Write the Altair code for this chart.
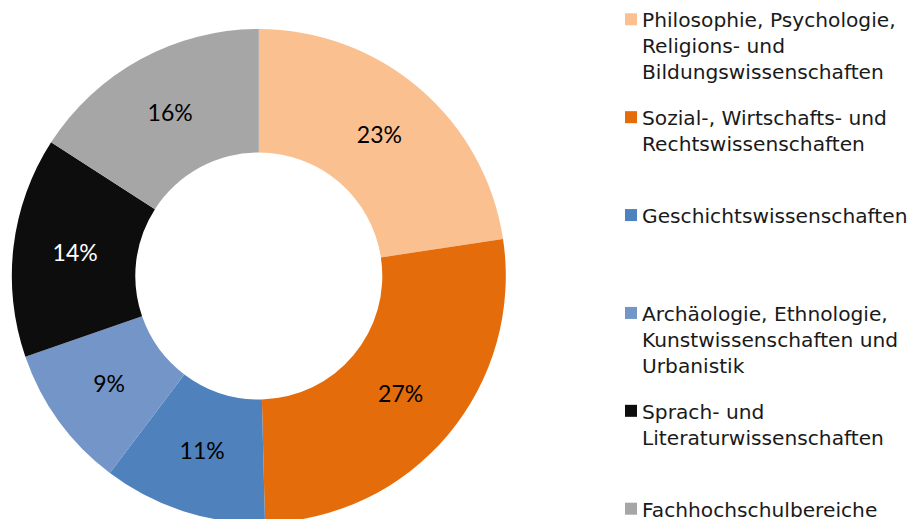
import altair as alt
import pandas as pd

categories = [
    "Philosophie, Psychologie, Religions- und Bildungswissenschaften",
    "Sozial-, Wirtschafts- und Rechtswissenschaften",
    "Geschichtswissenschaften",
    "Archäologie, Ethnologie, Kunstwissenschaften und Urbanistik",
    "Sprach- und Literaturwissenschaften",
    "Fachhochschulbereiche",
]
legend_lines = [
    ["Philosophie, Psychologie,", "Religions- und", "Bildungswissenschaften"],
    ["Sozial-, Wirtschafts- und", "Rechtswissenschaften"],
    ["Geschichtswissenschaften"],
    ["Archäologie, Ethnologie,", "Kunstwissenschaften und", "Urbanistik"],
    ["Sprach- und", "Literaturwissenschaften"],
    ["Fachhochschulbereiche"],
]
shares = [22.6, 27.0, 10.7, 9.4, 14.4, 15.9]
pct_labels = ["23%", "27%", "11%", "9%", "14%", "16%"]
colors = ["#FAC090", "#E46C0A", "#4F81BD", "#7395C7", "#0D0D0D", "#A6A6A6"]
label_colors = ["#000000", "#000000", "#000000", "#000000", "#FFFFFF", "#000000"]

df = pd.DataFrame({
    "cat": categories,
    "share": shares,
    "pct": pct_labels,
    "ord": list(range(len(categories))),
    "legend": ["|".join(l) for l in legend_lines],
    "tcol": label_colors,
})

cx, cy = 250.8, 268

base = alt.Chart(df).encode(
    theta=alt.Theta("share:Q", stack=True),
    order=alt.Order("ord:Q"),
)

arcs = base.mark_arc(outerRadius=247, innerRadius=123.5).encode(
    x=alt.value(cx), y=alt.value(cy),
    color=alt.Color("cat:N", scale=alt.Scale(domain=categories, range=colors), legend=None),
)

labels = base.mark_text(radius=185, font="Lato", fontSize=23, baseline="middle", align="center").encode(
    x=alt.value(cx), y=alt.value(cy),
    text="pct:N",
    color=alt.Color("tcol:N", scale=None),
)

yscale = alt.Scale(type="point", domain=categories, range=[19.3, 508.7], padding=0)

leg_base = alt.Chart(df).transform_calculate(lines="split(datum.legend, '|')")

swatches = leg_base.mark_square(size=144, opacity=1, yOffset=-8).encode(
    x=alt.value(623),
    y=alt.Y("cat:N", scale=yscale, axis=None),
    color=alt.Color("cat:N", scale=alt.Scale(domain=categories, range=colors), legend=None),
)

leg_text = leg_base.mark_text(align="left", baseline="alphabetic", font="DejaVu Sans",
                              fontSize=20.2, lineHeight=26, color="#1A1A1A").encode(
    x=alt.value(634),
    y=alt.Y("cat:N", scale=yscale, axis=None),
    text="lines:N",
)

chart = alt.layer(arcs, labels, swatches, leg_text).properties(
    width=905, height=511, padding=0,
    autosize=alt.AutoSizeParams(type="none"),
).configure(background="white").configure_view(stroke=None)

chart.save("out.html", embed_options={"renderer": "svg", "actions": False})
